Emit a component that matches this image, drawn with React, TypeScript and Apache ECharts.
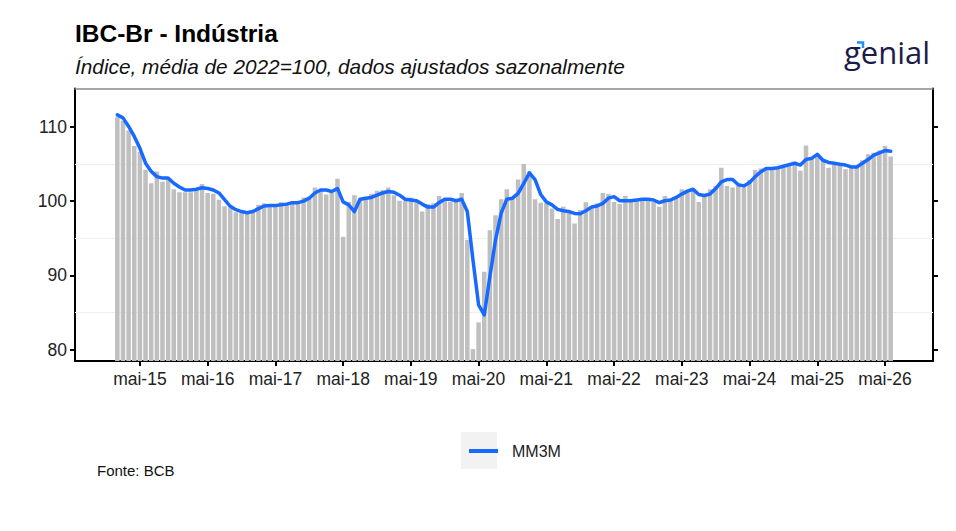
import React, { useEffect, useRef } from 'react';
import * as echarts from 'echarts';

// ---- data (monthly, Jan 2015 .. Jun 2026) ----
const START_YEAR = 2015;
const MESES = ['jan', 'fev', 'mar', 'abr', 'mai', 'jun', 'jul', 'ago', 'set', 'out', 'nov', 'dez'];

const industria = [
  111.3, 110.8, 109.5, 107.4, 106.6, 104.2, 102.4, 104.0, 102.6, 102.9, 101.6, 101.2,
  101.2, 101.2, 101.4, 102.3, 101.1, 101.0, 100.2, 99.3, 99.1, 98.5, 98.4, 98.4,
  98.8, 99.5, 99.7, 99.25, 99.5, 99.9, 99.6, 99.8, 99.8, 100.5, 100.3, 101.85,
  101.6, 100.9, 101.1, 103.0, 95.2, 99.9, 100.8, 100.4, 100.5, 101.0, 101.4, 101.5,
  101.85, 100.8, 100.05, 100.05, 100.5, 100.15, 98.6, 99.6, 99.7, 100.7, 100.15, 99.9,
  99.9, 101.1, 94.8, 80.1, 83.7, 90.5, 96.1, 98.1, 100.25, 101.6, 100.5, 102.9,
  105.0, 104.0, 100.25, 99.8, 99.7, 99.0, 97.6, 99.25, 98.8, 97.0, 98.8, 99.85,
  99.35, 99.7, 101.1, 100.95, 99.9, 99.6, 100.7, 100.15, 100.3, 100.4, 100.15, 99.9,
  99.25, 100.7, 100.15, 100.4, 101.6, 101.5, 101.6, 99.9, 100.95, 101.6, 102.05, 104.5,
  102.05, 101.85, 102.05, 101.85, 102.85, 104.2, 104.4, 104.6, 104.4, 104.4, 104.6, 104.7,
  105.3, 104.1, 107.5, 105.75, 106.0, 105.4, 104.5, 104.85, 104.85, 104.3, 104.6, 104.5,
  105.5, 106.3, 106.5, 106.8, 107.4, 106.0,
];

const mm3m = [
  111.6, 111.2, 110.05, 108.7, 107.1, 105.1, 104.0, 103.3, 103.1, 103.1, 102.4, 101.9,
  101.5, 101.5, 101.6, 101.8, 101.7, 101.5, 101.1, 100.2, 99.3, 98.85, 98.6, 98.45,
  98.6, 99.0, 99.35, 99.4, 99.4, 99.5, 99.6, 99.8, 99.8, 100.0, 100.4, 101.1,
  101.5, 101.5, 101.3, 101.7, 99.9, 99.5, 98.6, 100.25, 100.4, 100.5, 100.8, 101.1,
  101.3, 101.2, 100.8, 100.25, 100.15, 100.05, 99.6, 99.2, 99.2, 99.8, 100.25, 100.25,
  100.05, 100.25, 98.6, 92.1, 86.05, 84.7, 89.85, 94.8, 98.4, 100.25, 100.4, 101.05,
  102.4, 103.8, 102.9, 100.9, 99.9, 99.5, 98.9, 98.7, 98.6, 98.35, 98.3, 98.7,
  99.2, 99.35, 99.7, 100.4, 100.6, 100.05, 100.05, 100.05, 100.15, 100.25, 100.25, 100.15,
  99.8, 100.05, 100.15, 100.5, 100.95, 101.35, 101.6, 100.9, 100.75, 100.95, 101.7, 102.6,
  102.9, 102.9, 102.2, 102.05, 102.5, 103.3, 103.95, 104.4, 104.4, 104.5, 104.7, 104.9,
  105.1, 104.85, 105.6, 105.75, 106.3, 105.5, 105.2, 105.1, 104.95, 104.85, 104.6, 104.6,
  105.1, 105.6, 106.2, 106.5, 106.8, 106.7,
];

const Y_TICKS = [80, 90, 100, 110];
const GRID_MINOR = [85, 95, 105];

// ---- layout ----
const FONT = '"Liberation Sans", Arial, sans-serif';
const PAD = 7; // empty months on each side of the data (axis expansion)

function buildCategories(n: number): string[] {
  const out: string[] = [];
  for (let i = 0; i < n + PAD * 2; i++) {
    const m = i - PAD;
    const y = START_YEAR + Math.floor(m / 12);
    const mo = ((m % 12) + 12) % 12;
    out.push(`${MESES[mo]}-${String(y).slice(2)}`);
  }
  return out;
}

export default function App() {
  const ref = useRef<HTMLDivElement>(null);

  useEffect(() => {
    if (!ref.current) return;
    const chart = echarts.init(ref.current, null, { renderer: 'svg' });
    const categories = buildCategories(industria.length);
    const padNull = new Array(PAD).fill(null);
    const barData = [...padNull, ...industria, ...padNull];
    const lineData = [...padNull, ...mm3m, ...padNull];
    const isMai = (_i: number, v: string) => v.startsWith('mai-');

    const option: any = {
      animation: false,
      backgroundColor: '#ffffff',
      textStyle: { fontFamily: FONT },
      title: [
        {
          text: 'IBC-Br - Indústria',
          left: 75,
          top: 21,
          padding: 0,
          textStyle: { fontFamily: FONT, fontSize: 24.5, fontWeight: 'bold', color: '#000' },
        },
        {
          text: 'Índice, média de 2022=100, dados ajustados sazonalmente',
          left: 75,
          top: 56,
          padding: 0,
          textStyle: { fontFamily: FONT, fontSize: 20.8, fontStyle: 'italic', fontWeight: 'normal', color: '#111' },
        },
      ],
      grid: { left: 75, right: 23, top: 88.5, bottom: 170, containLabel: false },
      legend: {
        data: [{ name: 'MM3M', icon: 'rect' }],
        left: 464,
        top: 438,
        itemWidth: 29,
        itemHeight: 4,
        selectedMode: false,
        textStyle: { fontFamily: FONT, fontSize: 16, color: '#222', padding: [0, 0, 0, 9] },
      },
      xAxis: [
        {
          type: 'category',
          data: categories,
          boundaryGap: true,
          position: 'bottom',
          axisLine: { show: true, onZero: false, lineStyle: { color: '#000', width: 2 } },
          axisTick: { show: true, interval: isMai, alignWithLabel: true, length: 5, lineStyle: { color: '#000', width: 2 } },
          axisLabel: { interval: isMai, fontFamily: FONT, fontSize: 17.5, color: '#222', margin: 9 },
          splitLine: { show: false },
        },
        {
          type: 'category',
          data: categories,
          position: 'top',
          axisLine: { show: true, onZero: false, lineStyle: { color: '#8a8a8a', width: 1.5 } },
          axisTick: { show: false },
          axisLabel: { show: false },
          splitLine: { show: false },
        },
      ],
      yAxis: [
        {
          type: 'value',
          min: 78.5,
          max: 115.15,
          position: 'left',
          axisLine: { show: true, lineStyle: { color: '#000', width: 2 } },
          axisTick: { show: true, length: 5, customValues: Y_TICKS, lineStyle: { color: '#000', width: 2 } },
          axisLabel: { customValues: Y_TICKS, fontFamily: FONT, fontSize: 17.5, color: '#222', margin: 8 },
          splitLine: { show: false },
        },
        {
          type: 'value',
          min: 78.5,
          max: 115.15,
          position: 'right',
          axisLine: { show: true, lineStyle: { color: '#000', width: 2 } },
          axisTick: { show: true, length: 5, customValues: Y_TICKS, lineStyle: { color: '#000', width: 2 } },
          axisLabel: { show: false, customValues: Y_TICKS },
          splitLine: { show: false },
        },
      ],
      series: [
        {
          name: 'IBC-Br Indústria',
          type: 'bar',
          data: barData,
          xAxisIndex: 0,
          yAxisIndex: 0,
          barCategoryGap: '20%',
          itemStyle: { color: '#bfbfbf' },
          z: 2,
          markLine: {
            silent: true,
            symbol: 'none',
            z: 1,
            label: { show: false },
            lineStyle: { color: '#eeeeee', width: 1, type: 'solid' },
            data: GRID_MINOR.map((v) => ({ yAxis: v })),
          },
        },
        {
          name: 'MM3M',
          type: 'line',
          data: lineData,
          xAxisIndex: 0,
          yAxisIndex: 0,
          showSymbol: false,
          symbol: 'none',
          smooth: false,
          color: '#1769ff',
          lineStyle: { color: '#1769ff', width: 3.5, cap: 'round', join: 'round' },
          z: 3,
        },
      ],
      graphic: [
        {
          type: 'rect',
          z: 0,
          shape: { x: 461, y: 432, width: 36, height: 37 },
          style: { fill: '#f2f2f2' },
          silent: true,
        },
        {
          type: 'text',
          left: 97,
          top: 463,
          style: { text: 'Fonte: BCB', font: `15px ${FONT}`, fill: '#111' },
          silent: true,
        },
        {
          type: 'text',
          x: 844,
          y: 36,
          style: {
            text: 'genial',
            fontFamily: '"Open Sans", sans-serif',
            fontSize: 31,
            fontWeight: 500,
            fill: '#1c1b4b',
          },
          silent: true,
        },
        {
          type: 'polyline',
          shape: { points: [[857, 42.5], [863, 42.5], [863, 48]] },
          style: { stroke: '#1e90ff', lineWidth: 2.5, fill: 'none' },
          silent: true,
        },
      ],
    };

    chart.setOption(option);
    return () => chart.dispose();
  }, []);

  return (
    <div
      ref={ref}
      style={{ position: 'fixed', left: 0, top: 0, width: 956, height: 531, background: '#fff' }}
    />
  );
}
